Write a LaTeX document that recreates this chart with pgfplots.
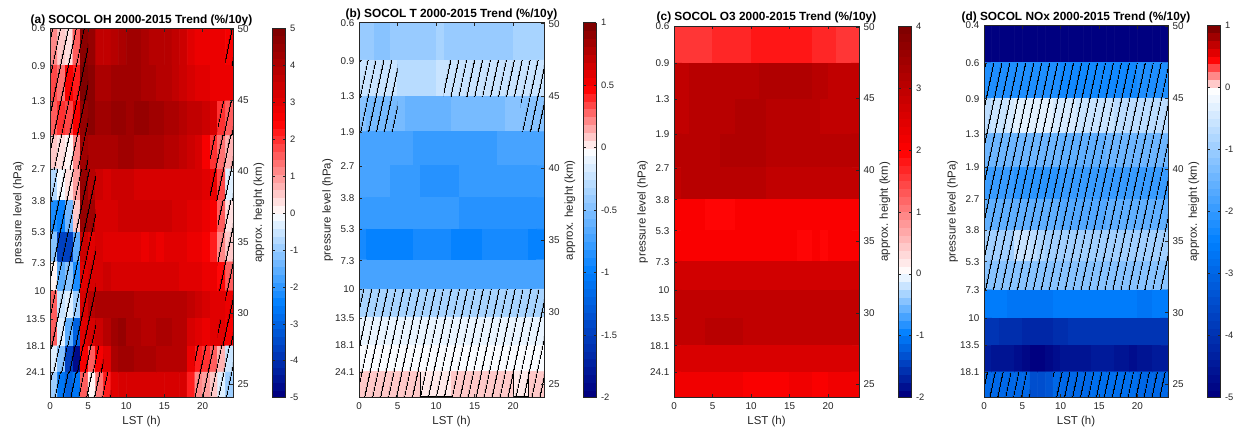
\documentclass[border=0pt]{standalone}
\usepackage{fontspec}
\setmainfont{Liberation Sans}
\usepackage{pgfplots}
\pgfplotsset{compat=1.18}
\usetikzlibrary{patterns.meta}
\definecolor{axgray}{gray}{0.15}
\newcommand{\hz}[4]{\addplot[forget plot, draw=none, pattern={Lines[angle=78,distance=5.35pt,line width=0.7pt]}, pattern color=black] coordinates {(#1,#3) (#2,#3) (#2,#4) (#1,#4)} --cycle;}
\pgfplotsset{
  /pgf/number format/assume math mode=true,
  colormap={cmA0}{rgb(0pt)=(0,0,0.5) rgb(1pt)=(0,0.5,1) rgb(2pt)=(1,1,1) rgb(3pt)=(1,0,0) rgb(4pt)=(0.5,0,0)},
  colormap={cmB0}{rgb(0pt)=(0,0,0.5) rgb(2pt)=(0,0.5,1) rgb(4pt)=(1,1,1) rgb(5pt)=(1,0,0) rgb(6pt)=(0.5,0,0)},
  colormap={cmC0}{rgb(0pt)=(0,0,0.5) rgb(1pt)=(0,0.5,1) rgb(2pt)=(1,1,1) rgb(4pt)=(1,0,0) rgb(6pt)=(0.5,0,0)},
  colormap={cmD0}{rgb(0pt)=(0,0,0.5) rgb(5pt)=(0,0.5,1) rgb(10pt)=(1,1,1) rgb(11pt)=(1,0,0) rgb(12pt)=(0.5,0,0)},
  colormap={cmA}{samples of colormap=(48 of cmA0)},
  colormap={cmB}{samples of colormap=(48 of cmB0)},
  colormap={cmC}{samples of colormap=(48 of cmC0)},
  colormap={cmD}{samples of colormap=(48 of cmD0)},
  /pgfplots/table/grid24/.style={row sep=\\, header=false, meta index=0,
    x expr={mod(\coordindex,24)+0.5},
    y expr={48.755-2.56*(\coordindex>23)-2.475*(\coordindex>47)-2.405*(\coordindex>71)-2.29*(\coordindex>95)-2.195*(\coordindex>119)-2.175*(\coordindex>143)-2.08*(\coordindex>167)-1.98*(\coordindex>191)-1.945*(\coordindex>215)-1.88*(\coordindex>239)-1.82*(\coordindex>263)}},
  heat/.style={
    scale only axis, axis on top,
    xmin=0, xmax=24, ymin=24.06, ymax=50.07,
    xtick={0,5,10,15,20}, ytick pos=left,
    ytick={50.07,47.44,44.95,42.49,40.14,37.91,35.75,33.56,31.59,29.60,27.70,25.84},
    tick align=inside, major tick length=2.5pt,
    axis line style={axgray}, every tick/.style={axgray, line width=0.4pt},
    tick label style={font=\fontsize{7.4}{8}\selectfont, text=axgray},
    every axis title/.style={font=\bfseries\fontsize{8.9}{10}\selectfont, at={(axis description cs:0.5,1)}, anchor=base, yshift=3.9pt},
    xlabel={LST (h)},
    every axis x label/.style={at={(axis description cs:0.5,0)}, anchor=center, yshift=-18pt, font=\fontsize{8.6}{10}\selectfont, text=axgray},
    ylabel={pressure level (hPa)},
    every axis y label/.style={at={(axis description cs:0,0.5)}, xshift=-23.6pt, rotate=90, anchor=center, font=\fontsize{8.6}{10}\selectfont, text=axgray},
    colormap access=piecewise constant,
    colorbar,
    colorbar style={at={(parent axis.north east)}, anchor=north west, xshift=21pt,
      width=9.75pt, tick align=inside, major tick length=2pt, xlabel={}, ylabel={}, title={},
      axis line style={axgray}, every tick/.style={axgray, line width=0.4pt},
      yticklabel pos=right, tick label style={font=\fontsize{7}{8}\selectfont, text=axgray}},
  },
  hgt/.style={
    scale only axis, xmin=0, xmax=24, ymin=24.06, ymax=50.07,
    axis x line=none, axis y line*=right, ytick={25,30,35,40,45,50},
    tick align=inside, major tick length=2.5pt,
    axis line style={axgray}, every tick/.style={axgray, line width=0.4pt},
    tick label style={font=\fontsize{7.4}{8}\selectfont, text=axgray},
    ylabel={approx. height (km)},
    every axis y label/.style={at={(axis description cs:1,0.5)}, xshift=19.5pt, rotate=90, anchor=center, font=\fontsize{8.6}{10}\selectfont, text=axgray},
  },
}
\begin{document}
\begin{tikzpicture}
\useasboundingbox (0,0) rectangle (927.75pt,326.25pt);
% ---------------- (a)
\begin{axis}[heat, at={(37.5pt,27.98pt)}, anchor=south west, width=137.25pt, height=277.05pt,
  title={(a) SOCOL OH 2000-2015 Trend (\%/10y)},
  yticklabels={0.6,0.9,1.3,1.9,2.7,3.8,5.3,7.3,10,13.5,18.1,24.1},
  colormap name=cmA, point meta min=-5, point meta max=5,
  colorbar style={ytick={-5,-4,...,5}}]
\addplot[matrix plot*, mesh/cols=24, point meta=explicit] table[grid24] {
1.2\\ 0.6\\ 0.4\\ 1.5\\ 4.6\\ 4.4\\ 3.6\\ 3.7\\ 3.9\\ 4.1\\ 4.2\\ 4.2\\ 4.0\\ 3.9\\ 3.8\\ 3.8\\ 3.7\\ 3.4\\ 3.0\\ 2.9\\ 2.9\\ 2.8\\ 2.9\\ 2.6\\
1.8\\ 1.4\\ 2.6\\ 2.2\\ 4.8\\ 4.6\\ 4.1\\ 4.1\\ 4.2\\ 4.3\\ 4.3\\ 4.2\\ 4.1\\ 4.0\\ 3.9\\ 3.8\\ 3.7\\ 3.5\\ 3.2\\ 3.0\\ 3.0\\ 2.9\\ 2.9\\ 2.9\\
1.6\\ 1.9\\ 1.8\\ 2.7\\ 4.5\\ 4.6\\ 4.3\\ 4.3\\ 4.4\\ 4.4\\ 4.3\\ 4.4\\ 4.4\\ 4.3\\ 4.2\\ 4.1\\ 4.0\\ 3.8\\ 3.7\\ 3.6\\ 3.5\\ 3.3\\ 2.0\\ 1.5\\
0.6\\ 0.3\\ 0.1\\ 1.1\\ 4.2\\ 4.1\\ 4.0\\ 4.1\\ 4.1\\ 4.2\\ 4.2\\ 4.1\\ 4.1\\ 4.0\\ 4.0\\ 3.9\\ 3.8\\ 3.6\\ 3.4\\ 3.3\\ 2.6\\ 2.0\\ 1.4\\ 0.7\\
-0.7\\ -0.2\\ 0.3\\ 0.9\\ 4.5\\ 3.8\\ 3.4\\ 3.3\\ 3.4\\ 3.4\\ 3.4\\ 3.3\\ 3.3\\ 3.3\\ 3.3\\ 3.3\\ 3.2\\ 3.3\\ 3.3\\ 3.2\\ 3.0\\ 2.8\\ 1.8\\ -0.4\\
-2.2\\ -2.3\\ -1.3\\ 0.6\\ 4.5\\ 4.2\\ 3.3\\ 3.2\\ 3.3\\ 3.4\\ 3.5\\ 3.5\\ 3.4\\ 3.4\\ 3.5\\ 3.4\\ 3.3\\ 3.2\\ 3.1\\ 3.0\\ 2.9\\ 2.5\\ 1.5\\ 0.3\\
-1.2\\ -3.6\\ -3.6\\ -1.6\\ 3.4\\ 3.0\\ 3.2\\ 3.0\\ 3.0\\ 3.1\\ 3.0\\ 3.0\\ 2.9\\ 3.0\\ 2.9\\ 3.0\\ 3.0\\ 3.0\\ 2.9\\ 2.8\\ 2.6\\ 2.2\\ 1.2\\ 0.5\\
0.0\\ -1.6\\ -1.2\\ -2.1\\ 3.0\\ 3.2\\ 3.3\\ 3.4\\ 3.3\\ 3.3\\ 3.2\\ 3.2\\ 3.2\\ 3.3\\ 3.3\\ 3.2\\ 3.2\\ 3.1\\ 3.0\\ 3.0\\ 2.9\\ 2.8\\ 2.4\\ 1.5\\
1.5\\ -0.5\\ -0.3\\ -0.9\\ 3.3\\ 3.8\\ 4.0\\ 4.0\\ 4.0\\ 4.0\\ 4.0\\ 3.9\\ 3.9\\ 3.9\\ 3.9\\ 3.9\\ 3.8\\ 3.8\\ 3.7\\ 3.5\\ 3.3\\ 3.1\\ 3.0\\ 2.8\\
1.5\\ -0.3\\ -1.6\\ -3.1\\ 3.0\\ 3.2\\ 3.5\\ 3.9\\ 4.3\\ 4.4\\ 4.1\\ 4.0\\ 3.9\\ 3.9\\ 4.0\\ 4.0\\ 3.9\\ 3.8\\ 3.3\\ 3.1\\ 2.9\\ 3.0\\ 3.0\\ 2.5\\
-0.3\\ -1.1\\ -3.6\\ -4.6\\ 2.6\\ 1.6\\ 2.6\\ 3.1\\ 4.0\\ 4.2\\ 4.2\\ 4.1\\ 4.0\\ 4.0\\ 3.9\\ 3.9\\ 3.9\\ 3.8\\ 2.8\\ 2.2\\ 2.0\\ 1.5\\ 0.7\\ -0.5\\
-1.0\\ -2.6\\ -3.0\\ -2.6\\ 1.6\\ 0.2\\ 1.3\\ 2.1\\ 3.1\\ 3.3\\ 3.3\\ 3.3\\ 3.3\\ 3.2\\ 3.2\\ 3.3\\ 3.3\\ 3.2\\ 2.1\\ 1.1\\ 0.9\\ 0.5\\ -0.3\\ -1.0\\
};
\hz{0}{5}{50.07}{40.14}
\hz{0}{6}{40.14}{27.70}
\hz{0}{7}{27.70}{25.84}
\hz{0}{8}{25.84}{24.06}
\hz{23}{24}{50.07}{47.44}
\hz{22}{24}{44.95}{42.49}
\hz{21}{24}{42.49}{37.91}
\hz{22}{24}{37.91}{31.59}
\hz{23}{24}{31.59}{29.60}
\hz{22}{24}{29.60}{27.70}
\hz{19}{24}{27.70}{24.06}
\end{axis}
\begin{axis}[hgt, at={(37.5pt,27.98pt)}, anchor=south west, width=137.25pt, height=277.05pt]
\end{axis}
% ---------------- (b)
\begin{axis}[heat, at={(269.25pt,27.98pt)}, anchor=south west, width=138.75pt, height=281.25pt,
  title={(b) SOCOL T 2000-2015 Trend (\%/10y)},
  yticklabels={0.6,0.9,1.3,1.9,2.7,3.8,5.3,7.3,10,13.5,18.1,24.1},
  colormap name=cmB, point meta min=-2, point meta max=1,
  colorbar style={ytick={-2,-1.5,...,1}}]
\addplot[matrix plot*, mesh/cols=24, point meta=explicit] table[grid24] {
-0.42\\ -0.42\\ -0.44\\ -0.44\\ -0.40\\ -0.40\\ -0.40\\ -0.40\\ -0.40\\ -0.38\\ -0.36\\ -0.40\\ -0.41\\ -0.41\\ -0.41\\ -0.40\\ -0.40\\ -0.40\\ -0.40\\ -0.38\\ -0.37\\ -0.37\\ -0.37\\ -0.37\\
-0.22\\ -0.22\\ -0.22\\ -0.22\\ -0.22\\ -0.28\\ -0.30\\ -0.30\\ -0.28\\ -0.26\\ -0.22\\ -0.20\\ -0.20\\ -0.20\\ -0.20\\ -0.20\\ -0.21\\ -0.21\\ -0.21\\ -0.21\\ -0.22\\ -0.22\\ -0.22\\ -0.22\\
-0.50\\ -0.52\\ -0.52\\ -0.52\\ -0.55\\ -0.55\\ -0.58\\ -0.60\\ -0.60\\ -0.60\\ -0.60\\ -0.58\\ -0.56\\ -0.56\\ -0.55\\ -0.55\\ -0.55\\ -0.52\\ -0.52\\ -0.50\\ -0.50\\ -0.48\\ -0.48\\ -0.48\\
-0.72\\ -0.75\\ -0.75\\ -0.75\\ -0.72\\ -0.72\\ -0.75\\ -0.78\\ -0.78\\ -0.78\\ -0.80\\ -0.80\\ -0.80\\ -0.78\\ -0.78\\ -0.78\\ -0.76\\ -0.76\\ -0.75\\ -0.72\\ -0.72\\ -0.72\\ -0.72\\ -0.72\\
-0.75\\ -0.75\\ -0.75\\ -0.75\\ -0.78\\ -0.78\\ -0.80\\ -0.80\\ -0.82\\ -0.82\\ -0.84\\ -0.84\\ -0.82\\ -0.80\\ -0.80\\ -0.80\\ -0.80\\ -0.80\\ -0.78\\ -0.78\\ -0.78\\ -0.78\\ -0.78\\ -0.78\\
-0.80\\ -0.80\\ -0.80\\ -0.80\\ -0.80\\ -0.78\\ -0.78\\ -0.78\\ -0.78\\ -0.80\\ -0.80\\ -0.80\\ -0.80\\ -0.82\\ -0.82\\ -0.82\\ -0.82\\ -0.82\\ -0.82\\ -0.82\\ -0.84\\ -0.84\\ -0.84\\ -0.84\\
-0.92\\ -0.95\\ -0.98\\ -0.98\\ -0.98\\ -0.95\\ -0.95\\ -0.92\\ -0.92\\ -0.90\\ -0.92\\ -0.92\\ -0.95\\ -0.95\\ -0.95\\ -0.95\\ -0.92\\ -0.92\\ -0.90\\ -0.90\\ -0.90\\ -0.90\\ -0.95\\ -0.95\\
-0.72\\ -0.72\\ -0.74\\ -0.74\\ -0.74\\ -0.72\\ -0.72\\ -0.70\\ -0.70\\ -0.70\\ -0.70\\ -0.70\\ -0.70\\ -0.72\\ -0.72\\ -0.72\\ -0.72\\ -0.72\\ -0.72\\ -0.70\\ -0.70\\ -0.70\\ -0.70\\ -0.70\\
-0.36\\ -0.36\\ -0.37\\ -0.37\\ -0.37\\ -0.36\\ -0.36\\ -0.35\\ -0.35\\ -0.35\\ -0.36\\ -0.36\\ -0.36\\ -0.36\\ -0.36\\ -0.36\\ -0.35\\ -0.35\\ -0.35\\ -0.35\\ -0.36\\ -0.36\\ -0.36\\ -0.36\\
-0.08\\ -0.08\\ -0.08\\ -0.08\\ -0.08\\ -0.08\\ -0.08\\ -0.08\\ -0.07\\ -0.07\\ -0.07\\ -0.07\\ -0.08\\ -0.08\\ -0.08\\ -0.08\\ -0.08\\ -0.08\\ -0.08\\ -0.08\\ -0.08\\ -0.08\\ -0.08\\ -0.08\\
-0.02\\ -0.02\\ -0.02\\ -0.02\\ -0.02\\ -0.02\\ -0.02\\ -0.02\\ -0.05\\ -0.05\\ -0.05\\ -0.05\\ -0.02\\ -0.02\\ -0.02\\ -0.02\\ -0.02\\ -0.02\\ -0.02\\ -0.02\\ -0.02\\ -0.02\\ -0.02\\ -0.02\\
0.09\\ 0.09\\ 0.09\\ 0.09\\ 0.09\\ 0.09\\ 0.09\\ 0.09\\ 0.01\\ 0.01\\ 0.01\\ 0.01\\ 0.09\\ 0.09\\ 0.09\\ 0.09\\ 0.09\\ 0.09\\ 0.09\\ 0.09\\ 0.01\\ 0.01\\ 0.09\\ 0.09\\
};
\hz{0}{5}{47.44}{42.49}
\hz{11}{24}{47.44}{44.95}
\hz{21}{24}{44.95}{42.49}
\hz{0}{24}{31.59}{24.06}
\addplot[forget plot, black, line width=0.8pt] coordinates {(8,25.84) (8,24.12) (12,24.12)};
\addplot[forget plot, black, line width=0.8pt] coordinates {(20,25.84) (20,24.12) (22,24.12) (22,25.84)};
\end{axis}
\begin{axis}[hgt, at={(269.25pt,27.98pt)}, anchor=south west, width=138.75pt, height=281.25pt]
\end{axis}
% ---------------- (c)
\begin{axis}[heat, at={(505.5pt,27.98pt)}, anchor=south west, width=138.75pt, height=278.8pt,
  title={(c) SOCOL O3 2000-2015 Trend (\%/10y)},
  yticklabels={0.6,0.9,1.3,1.9,2.7,3.8,5.3,7.3,10,13.5,18.1,24.1},
  colormap name=cmC, point meta min=-2, point meta max=4,
  colorbar style={ytick={-2,-1,...,4}}]
\addplot[matrix plot*, mesh/cols=24, point meta=explicit] table[grid24] {
1.55\\ 1.55\\ 1.60\\ 1.60\\ 1.60\\ 1.65\\ 1.65\\ 1.65\\ 1.70\\ 1.70\\ 1.75\\ 1.80\\ 1.85\\ 1.85\\ 1.85\\ 1.85\\ 1.80\\ 1.80\\ 1.70\\ 1.65\\ 1.65\\ 1.60\\ 1.60\\ 1.60\\
2.90\\ 2.95\\ 3.00\\ 3.05\\ 3.10\\ 3.10\\ 3.10\\ 3.10\\ 3.10\\ 3.10\\ 3.10\\ 3.15\\ 3.15\\ 3.15\\ 3.20\\ 3.20\\ 3.15\\ 3.15\\ 3.05\\ 3.00\\ 2.95\\ 2.95\\ 2.90\\ 2.90\\
2.95\\ 2.95\\ 3.00\\ 3.00\\ 3.05\\ 3.05\\ 3.10\\ 3.10\\ 3.15\\ 3.15\\ 3.15\\ 3.15\\ 3.10\\ 3.10\\ 3.10\\ 3.05\\ 3.05\\ 3.00\\ 3.00\\ 2.95\\ 2.95\\ 2.95\\ 2.95\\ 2.95\\
3.00\\ 3.05\\ 3.05\\ 3.05\\ 3.10\\ 3.10\\ 3.15\\ 3.15\\ 3.15\\ 3.15\\ 3.15\\ 3.15\\ 3.10\\ 3.10\\ 3.10\\ 3.10\\ 3.05\\ 3.05\\ 3.05\\ 3.05\\ 3.00\\ 3.00\\ 3.00\\ 3.00\\
2.95\\ 3.00\\ 3.00\\ 3.00\\ 3.00\\ 3.00\\ 3.00\\ 3.00\\ 3.00\\ 3.00\\ 3.00\\ 3.00\\ 2.95\\ 2.95\\ 2.95\\ 2.95\\ 2.95\\ 2.95\\ 2.95\\ 2.95\\ 2.95\\ 2.95\\ 2.95\\ 2.95\\
2.05\\ 2.05\\ 2.05\\ 2.05\\ 1.95\\ 1.95\\ 1.95\\ 1.95\\ 2.00\\ 2.00\\ 2.00\\ 2.00\\ 2.00\\ 2.00\\ 2.00\\ 2.00\\ 2.00\\ 2.00\\ 2.00\\ 2.00\\ 2.05\\ 2.05\\ 2.05\\ 2.05\\
2.05\\ 2.05\\ 2.05\\ 2.05\\ 2.05\\ 2.05\\ 2.05\\ 2.05\\ 2.05\\ 2.05\\ 2.05\\ 2.00\\ 2.05\\ 2.05\\ 2.05\\ 2.05\\ 1.95\\ 1.95\\ 2.00\\ 1.95\\ 2.05\\ 2.05\\ 2.05\\ 2.05\\
2.70\\ 2.70\\ 2.72\\ 2.72\\ 2.72\\ 2.70\\ 2.70\\ 2.70\\ 2.70\\ 2.70\\ 2.70\\ 2.68\\ 2.70\\ 2.70\\ 2.70\\ 2.70\\ 2.70\\ 2.70\\ 2.70\\ 2.70\\ 2.70\\ 2.70\\ 2.70\\ 2.70\\
2.95\\ 2.95\\ 2.95\\ 2.95\\ 2.95\\ 2.95\\ 2.95\\ 2.95\\ 2.95\\ 2.95\\ 2.95\\ 2.95\\ 2.95\\ 2.95\\ 2.95\\ 2.95\\ 2.95\\ 2.95\\ 2.95\\ 2.95\\ 2.95\\ 2.95\\ 2.95\\ 2.95\\
2.95\\ 2.95\\ 2.95\\ 2.95\\ 3.00\\ 3.05\\ 3.05\\ 3.05\\ 3.00\\ 2.95\\ 2.95\\ 2.95\\ 2.95\\ 2.95\\ 2.95\\ 2.95\\ 2.95\\ 2.95\\ 2.95\\ 2.95\\ 2.95\\ 2.95\\ 2.95\\ 2.95\\
2.62\\ 2.62\\ 2.62\\ 2.62\\ 2.62\\ 2.62\\ 2.62\\ 2.62\\ 2.62\\ 2.62\\ 2.62\\ 2.62\\ 2.62\\ 2.62\\ 2.62\\ 2.62\\ 2.62\\ 2.62\\ 2.62\\ 2.62\\ 2.62\\ 2.62\\ 2.62\\ 2.62\\
2.20\\ 2.20\\ 2.18\\ 2.18\\ 2.18\\ 2.15\\ 2.15\\ 2.15\\ 2.15\\ 2.12\\ 2.12\\ 2.05\\ 2.12\\ 2.12\\ 2.12\\ 2.15\\ 2.15\\ 2.15\\ 2.05\\ 2.12\\ 2.15\\ 2.15\\ 2.15\\ 2.15\\
};
\end{axis}
\begin{axis}[hgt, at={(505.5pt,27.98pt)}, anchor=south west, width=138.75pt, height=278.8pt]
\end{axis}
% ---------------- (d)
\begin{axis}[heat, at={(738pt,27.98pt)}, anchor=south west, width=138pt, height=279.2pt,
  title={(d) SOCOL NOx 2000-2015 Trend (\%/10y)},
  yticklabels={0.4,0.6,0.9,1.3,1.9,2.7,3.8,5.3,7.3,10,13.5,18.1},
  colormap name=cmD, point meta min=-5, point meta max=1,
  colorbar style={ytick={-5,-4,...,1}}]
\addplot[matrix plot*, mesh/cols=24, point meta=explicit] table[grid24] {
-5.3\\ -5.3\\ -5.3\\ -5.3\\ -5.3\\ -5.3\\ -5.3\\ -5.3\\ -5.3\\ -5.3\\ -5.3\\ -5.3\\ -5.3\\ -5.3\\ -5.3\\ -5.3\\ -5.3\\ -5.3\\ -5.3\\ -5.3\\ -5.3\\ -5.3\\ -5.3\\ -5.3\\
-2.2\\ -2.2\\ -2.2\\ -2.2\\ -2.2\\ -2.2\\ -2.25\\ -2.25\\ -2.25\\ -2.25\\ -2.3\\ -2.3\\ -2.3\\ -2.3\\ -2.3\\ -2.3\\ -2.3\\ -2.3\\ -2.3\\ -2.3\\ -2.25\\ -2.2\\ -2.2\\ -2.2\\
-0.65\\ -0.6\\ -0.55\\ -0.5\\ -0.35\\ -0.3\\ -0.3\\ -0.35\\ -0.35\\ -0.45\\ -0.5\\ -0.5\\ -0.55\\ -0.55\\ -0.6\\ -0.6\\ -0.6\\ -0.65\\ -0.65\\ -0.7\\ -0.7\\ -0.7\\ -0.7\\ -0.7\\
-1.5\\ -1.5\\ -1.45\\ -1.45\\ -1.45\\ -1.45\\ -1.5\\ -1.5\\ -1.5\\ -1.5\\ -1.55\\ -1.55\\ -1.55\\ -1.55\\ -1.55\\ -1.55\\ -1.5\\ -1.5\\ -1.5\\ -1.5\\ -1.5\\ -1.5\\ -1.5\\ -1.5\\
-1.9\\ -1.9\\ -1.9\\ -1.9\\ -2.1\\ -2.1\\ -2.1\\ -2.1\\ -2.1\\ -2.05\\ -2.0\\ -2.0\\ -2.0\\ -2.0\\ -2.0\\ -2.0\\ -1.95\\ -1.95\\ -1.95\\ -1.9\\ -1.9\\ -1.9\\ -1.9\\ -1.9\\
-1.6\\ -1.6\\ -1.6\\ -1.6\\ -1.55\\ -1.55\\ -1.6\\ -1.6\\ -1.6\\ -1.6\\ -1.65\\ -1.65\\ -1.65\\ -1.65\\ -1.65\\ -1.65\\ -1.6\\ -1.6\\ -1.6\\ -1.6\\ -1.6\\ -1.6\\ -1.6\\ -1.6\\
-1.0\\ -1.0\\ -1.0\\ -0.9\\ -0.6\\ -0.6\\ -0.65\\ -0.8\\ -0.9\\ -0.95\\ -1.0\\ -1.0\\ -1.0\\ -1.0\\ -1.0\\ -1.0\\ -1.0\\ -1.0\\ -1.0\\ -1.0\\ -1.0\\ -1.0\\ -1.0\\ -1.0\\
-1.25\\ -1.25\\ -1.25\\ -1.2\\ -1.15\\ -1.15\\ -1.2\\ -1.2\\ -1.25\\ -1.25\\ -1.25\\ -1.25\\ -1.25\\ -1.25\\ -1.25\\ -1.25\\ -1.25\\ -1.25\\ -1.25\\ -1.25\\ -1.25\\ -1.25\\ -1.25\\ -1.25\\
-2.6\\ -2.6\\ -2.6\\ -2.65\\ -2.65\\ -2.7\\ -2.7\\ -2.65\\ -2.65\\ -2.6\\ -2.6\\ -2.6\\ -2.6\\ -2.6\\ -2.6\\ -2.6\\ -2.6\\ -2.6\\ -2.6\\ -2.6\\ -2.65\\ -2.65\\ -2.6\\ -2.6\\
-4.0\\ -4.0\\ -4.05\\ -4.05\\ -4.1\\ -4.15\\ -4.2\\ -4.2\\ -4.15\\ -4.1\\ -4.05\\ -4.0\\ -4.0\\ -4.0\\ -4.0\\ -4.0\\ -4.0\\ -3.95\\ -3.95\\ -3.95\\ -4.0\\ -4.0\\ -4.0\\ -4.0\\
-4.5\\ -4.55\\ -4.6\\ -4.6\\ -4.7\\ -4.8\\ -4.9\\ -4.95\\ -4.85\\ -4.75\\ -4.6\\ -4.6\\ -4.55\\ -4.55\\ -4.5\\ -4.5\\ -4.5\\ -4.55\\ -4.6\\ -4.7\\ -4.6\\ -4.55\\ -4.5\\ -4.5\\
-2.9\\ -2.9\\ -2.95\\ -2.95\\ -2.95\\ -3.0\\ -3.4\\ -3.4\\ -3.35\\ -3.0\\ -2.95\\ -2.9\\ -2.9\\ -2.9\\ -2.85\\ -2.85\\ -2.85\\ -2.85\\ -2.85\\ -2.85\\ -2.9\\ -2.9\\ -2.9\\ -2.9\\
};
\hz{0}{24}{47.44}{31.59}
\hz{0}{6}{25.84}{24.06}
\hz{9}{24}{25.84}{24.06}
\end{axis}
\begin{axis}[hgt, at={(738pt,27.98pt)}, anchor=south west, width=138pt, height=279.2pt]
\end{axis}
\end{tikzpicture}
\end{document}
